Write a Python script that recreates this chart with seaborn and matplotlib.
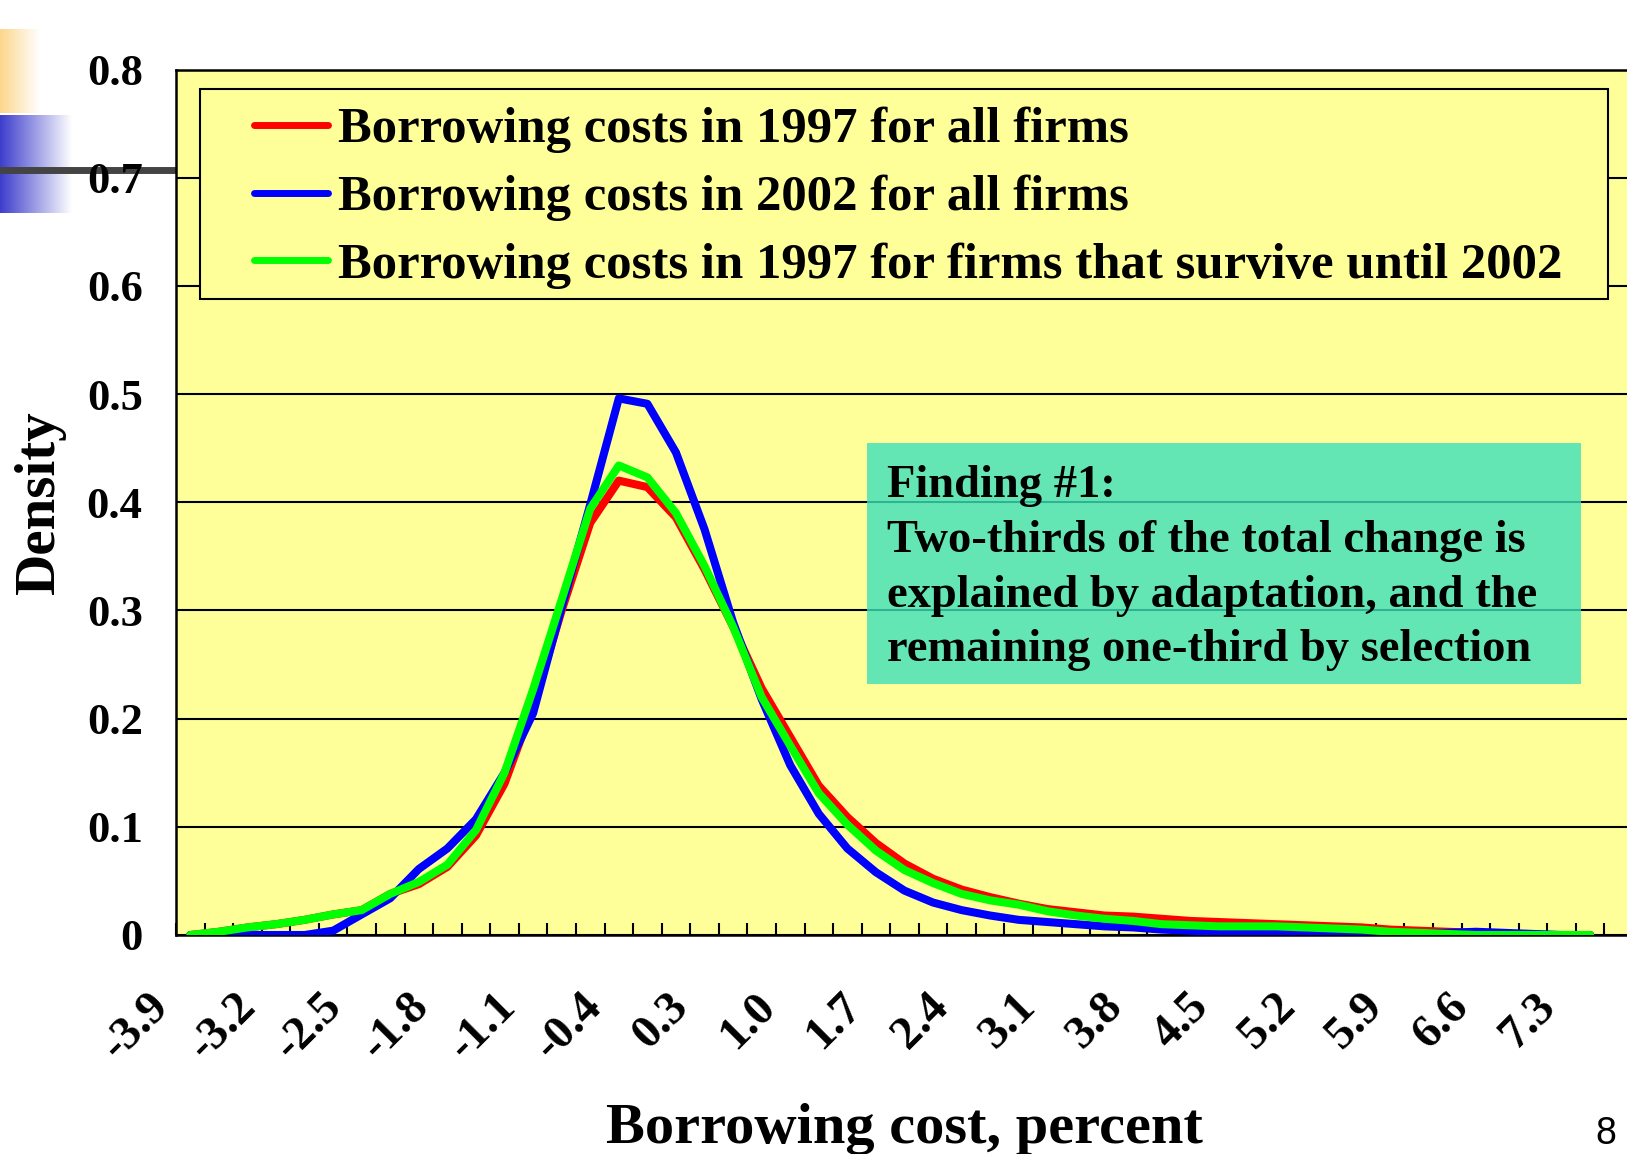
import numpy as np
import pandas as pd
import matplotlib
matplotlib.use("Agg")
import matplotlib.pyplot as plt
import matplotlib.transforms as mtransforms
from matplotlib.lines import Line2D
from matplotlib.patches import Rectangle
import seaborn as sns

# Estimated densities of borrowing costs on a grid of 50 points from -3.9 to ~7.5 percent
density_1997_all = [
    0.000, 0.003, 0.007, 0.010, 0.014, 0.019, 0.023, 0.038, 0.047, 0.063,
    0.092, 0.140, 0.212, 0.300, 0.381, 0.420, 0.414, 0.386, 0.338, 0.285,
    0.228, 0.183, 0.138, 0.109, 0.085, 0.066, 0.052, 0.042, 0.035, 0.029,
    0.024, 0.021, 0.018, 0.017, 0.015, 0.013, 0.012, 0.011, 0.010, 0.009,
    0.008, 0.007, 0.005, 0.004, 0.003, 0.002, 0.001, 0.000, 0.000, 0.000,
]
density_2002_all = [
    0.000, 0.000, 0.000, 0.000, 0.000, 0.004, 0.019, 0.034, 0.061, 0.080,
    0.107, 0.150, 0.205, 0.303, 0.398, 0.496, 0.491, 0.446, 0.375, 0.289,
    0.218, 0.157, 0.112, 0.080, 0.058, 0.041, 0.030, 0.023, 0.018, 0.014,
    0.012, 0.010, 0.008, 0.007, 0.005, 0.004, 0.002, 0.001, 0.001, 0.001,
    0.000, 0.000, 0.000, 0.001, 0.002, 0.003, 0.002, 0.001, 0.000, 0.000,
]
density_1997_survivors = [
    0.000, 0.003, 0.007, 0.010, 0.014, 0.019, 0.023, 0.038, 0.049, 0.065,
    0.097, 0.150, 0.227, 0.310, 0.394, 0.434, 0.423, 0.390, 0.341, 0.285,
    0.220, 0.175, 0.131, 0.102, 0.078, 0.060, 0.048, 0.038, 0.032, 0.028,
    0.022, 0.018, 0.015, 0.013, 0.010, 0.009, 0.008, 0.008, 0.008, 0.007,
    0.006, 0.005, 0.003, 0.002, 0.001, 0.000, 0.000, 0.000, 0.000, 0.000,
]
series_names = [
    "Borrowing costs in 1997 for all firms",
    "Borrowing costs in 2002 for all firms",
    "Borrowing costs in 1997 for firms that survive until 2002",
]
series_colors = ["#FF0000", "#0000FF", "#00FF00"]
x_tick_labels = ["-3.9", "-3.2", "-2.5", "-1.8", "-1.1", "-0.4", "0.3", "1.0", "1.7",
                 "2.4", "3.1", "3.8", "4.5", "5.2", "5.9", "6.6", "7.3"]
y_ticks = [0, 0.1, 0.2, 0.3, 0.4, 0.5, 0.6, 0.7, 0.8]
y_tick_labels = ["0", "0.1", "0.2", "0.3", "0.4", "0.5", "0.6", "0.7", "0.8"]
finding_text = ("Finding #1:\nTwo-thirds of the total change is\n"
                "explained by adaptation, and the\nremaining one-third by selection")

n_points = len(density_1997_all)
frames = []
for name, vals in zip(series_names, [density_1997_all, density_2002_all, density_1997_survivors]):
    frames.append(pd.DataFrame({"pos": np.arange(n_points), "density": vals, "series": name}))
df = pd.concat(frames, ignore_index=True)

sns.set_style("ticks")
plt.rcParams["font.family"] = ["Liberation Serif", "DejaVu Serif"]
plt.rcParams["font.weight"] = "bold"
for key in ["text.color", "axes.labelcolor", "xtick.color", "ytick.color"]:
    plt.rcParams[key] = "black"

W, H = 1627, 1154
fig = plt.figure(figsize=(W / 100, H / 100), dpi=100, facecolor="white")

def fx(px):
    return px / W

def fy(py):
    return 1 - py / H

# slide decorations at the top-left corner
deco1 = fig.add_axes([0, fy(113), fx(40), (113 - 29) / H], zorder=-3)
grad = np.linspace(0, 1, 256)[None, :, None]
orange = np.array([0.99, 0.84, 0.55])
deco1.imshow(orange * (1 - grad) + grad, aspect="auto", extent=[0, 1, 0, 1])
deco1.axis("off")
deco2 = fig.add_axes([0, fy(213), fx(72), (213 - 115) / H], zorder=-3)
blue = np.array([0.24, 0.24, 0.80])
deco2.imshow(blue * (1 - grad) + grad, aspect="auto", extent=[0, 1, 0, 1])
deco2.axis("off")
fig.add_artist(Line2D([0, fx(176)], [fy(170), fy(170)], color="#444444", lw=5.0,
                      transform=fig.transFigure, zorder=-2))

left, right, top, bottom = 176, 1633, 69.5, 935
ax = fig.add_axes([fx(left), fy(bottom), fx(right - left), (bottom - top) / H])
ax.set_facecolor("#FFFF99")

sns.lineplot(data=df, x="pos", y="density", hue="series", hue_order=series_names,
             palette=series_colors, linewidth=5.8, ax=ax, legend=False, zorder=3,
             solid_capstyle="round", solid_joinstyle="round")

ax.set_xlim(-0.5, n_points + 0.5)
ax.set_ylim(0, 0.8)
ax.set_yticks(y_ticks)
ax.set_yticklabels(y_tick_labels, fontsize=32, fontweight="bold")
ax.tick_params(axis="y", length=0, pad=24)
ax.set_xticks(np.arange(0, 49, 3))
ax.set_xticklabels(x_tick_labels, fontsize=34, fontweight="bold", rotation=45,
                   ha="right", va="center", rotation_mode="anchor")
ax.tick_params(axis="x", which="major", length=0, pad=44)
for i, lab in enumerate(ax.get_xticklabels()):
    shift = mtransforms.ScaledTranslation((-28 + 0.97 * i) / 100, -4 / 100,
                                          fig.dpi_scale_trans)
    lab.set_transform(lab.get_transform() + shift)
ax.set_xticks(np.arange(-0.5, n_points + 1, 1), minor=True)
ax.tick_params(axis="x", which="minor", direction="in", length=9, width=1.5, color="black")
ax.yaxis.grid(True, color="black", lw=1.5)
ax.xaxis.grid(False)
for side in ["left", "bottom", "top", "right"]:
    ax.spines[side].set_color("black")
    ax.spines[side].set_linewidth(1.8)

ax.set_xlabel("Borrowing cost, percent", fontsize=42, fontweight="bold")
ax.xaxis.set_label_coords(0.5, (bottom - 1129) / (bottom - top))
ax.xaxis.label.set_va("center")
ax.set_ylabel("Density", fontsize=41, fontweight="bold", labelpad=15)

# legend box
ax.add_patch(Rectangle((fx(200), fy(299)), fx(1608 - 200), (299 - 89) / H,
                       transform=fig.transFigure, facecolor="#FFFF99", edgecolor="black",
                       lw=1.5, zorder=4, clip_on=False))
handles = [Line2D([], [], color=c, lw=5, solid_capstyle="round") for c in series_colors]
leg = ax.legend(handles, series_names, loc="upper left",
                bbox_to_anchor=(fx(254), fy(107)), bbox_transform=fig.transFigure,
                frameon=False, borderpad=0, borderaxespad=0, handlelength=1.46,
                handletextpad=0.2, labelspacing=0.42,
                prop={"family": "Liberation Serif", "weight": "bold", "size": 36.5})
leg.set_zorder(5)

# annotation box
ax.add_patch(Rectangle((fx(867), fy(684)), fx(1581 - 867), (684 - 443) / H,
                       transform=fig.transFigure, facecolor="#3DE0BB", alpha=0.8,
                       edgecolor="none", zorder=4, clip_on=False))
fig.text(fx(887), fy(465), finding_text, fontsize=33.5, fontweight="bold",
         family="Liberation Serif", va="top", ha="left", linespacing=1.40, zorder=6)

fig.text(fx(1606), fy(1134), "8", fontsize=27, family="Liberation Sans",
         fontweight="normal", ha="center", va="center")

fig.savefig("out.png", dpi=100, facecolor="white")
